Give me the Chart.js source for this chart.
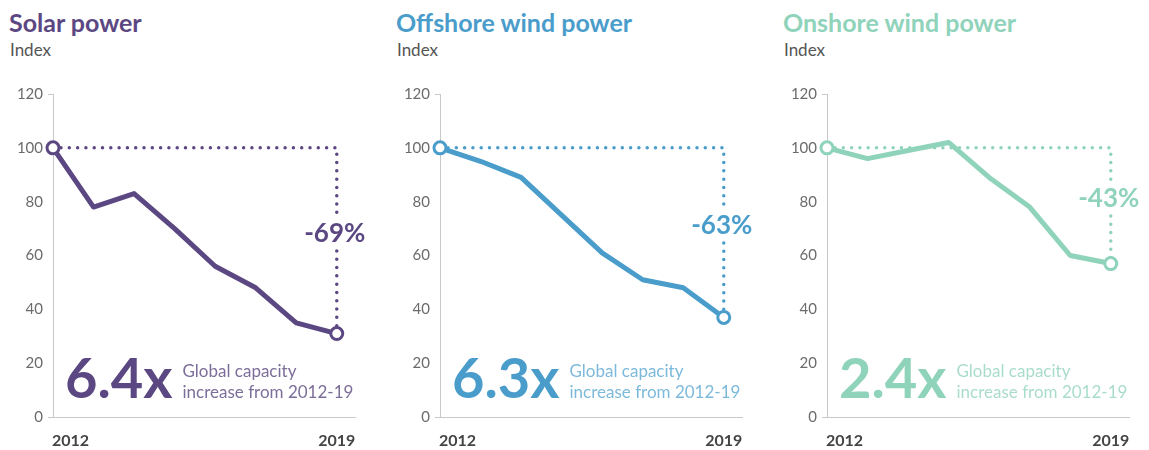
<!DOCTYPE html>
<html>
<head>
<meta charset="utf-8">
<script src="https://cdn.jsdelivr.net/npm/chart.js@4"></script>
<style>
  body { margin: 0; background: #fff; font-family: Lato, sans-serif; }
  #wrap { position: relative; width: 1149px; height: 450px; overflow: hidden; }
  .panel { position: absolute; top: 0; width: 383px; height: 450px; }
  .title { position: absolute; left: 9px; top: 6px; font-size: 25px; font-weight: 700; line-height: 32px; white-space: nowrap; }
  .sub { position: absolute; left: 10px; top: 40px; font-size: 17px; color: #555; line-height: 20px; }
  .panel canvas { position: absolute; left: 0; top: 80px; }
</style>
</head>
<body>
<div id="wrap">
  <div class="panel" style="left:0px"><div class="title" id="t0"></div><div class="sub">Index</div><canvas id="c0" width="383" height="370"></canvas></div>
  <div class="panel" style="left:387px"><div class="title" id="t1"></div><div class="sub">Index</div><canvas id="c1" width="383" height="370"></canvas></div>
  <div class="panel" style="left:774px"><div class="title" id="t2"></div><div class="sub">Index</div><canvas id="c2" width="383" height="370"></canvas></div>
</div>
<script>
// index values, 2012 = 100
const years = [2012, 2013, 2014, 2015, 2016, 2017, 2018, 2019];
const solarIndex = [100, 78, 83, 70, 56, 48, 35, 31];
const offshoreIndex = [100, 95, 89, 75, 61, 51, 48, 37];
const onshoreIndex = [100, 96, 99, 102, 89, 78, 60, 57];

const titles = ['Solar power', 'Offshore wind power', 'Onshore wind power'];
const changeLabels = ['-69%', '-63%', '-43%'];
const capacityLabels = ['6.4x', '6.3x', '2.4x'];
const capacityNote = ['Global capacity', 'increase from 2012-19'];
const yTicks = [0, 20, 40, 60, 80, 100, 120];
const xLabels = ['2012', '2019'];

const panels = [
    { values: solarIndex, color: '#5b4882', soft: '#7c6e99' },
    { values: offshoreIndex, color: '#4a9dcb', soft: '#7cb9db' },
    { values: onshoreIndex, color: '#8fd3bb', soft: '#a9ddca' }
];

const FONT = 'Lato, sans-serif';

// dotted guide lines, change label and capacity note
const annotate = {
    id: 'annotate',
    beforeDatasetsDraw(chart) {
        const p = chart.options.plugins.annotate;
        const xs = chart.scales.x, ys = chart.scales.y;
        const vals = p.values;
        const x0 = xs.getPixelForValue(years[0]);
        const x1 = xs.getPixelForValue(years[years.length - 1]);
        const yTop = ys.getPixelForValue(vals[0]);
        const yEnd = ys.getPixelForValue(vals[vals.length - 1]);
        const yLab = ys.getPixelForValue((vals[0] + vals[vals.length - 1]) / 2 + 2.5);
        const ctx = chart.ctx;
        ctx.save();
        ctx.strokeStyle = p.color;
        ctx.lineWidth = 3.5;
        ctx.lineCap = 'round';
        ctx.setLineDash([0, 8.3]);
        ctx.beginPath();
        ctx.moveTo(x0 + 8, yTop);
        ctx.lineTo(x1, yTop);
        ctx.lineTo(x1, yLab - 18);
        ctx.moveTo(x1, yLab + 17);
        ctx.lineTo(x1, yEnd);
        ctx.stroke();
        ctx.restore();

        ctx.save();
        ctx.fillStyle = p.color;
        ctx.font = '700 26px ' + FONT;
        ctx.textAlign = 'center';
        ctx.textBaseline = 'middle';
        ctx.fillText(p.change, x1 - 2, yLab);
        ctx.restore();
    },
    afterDraw(chart) {
        const p = chart.options.plugins.annotate;
        const xs = chart.scales.x;
        const area = chart.chartArea;
        const ctx = chart.ctx;
        ctx.save();
        ctx.fillStyle = p.color;
        ctx.font = '700 56px ' + FONT;
        ctx.textBaseline = 'alphabetic';
        const bx = area.left + 12;
        const by = area.bottom - 19;
        ctx.fillText(p.big, bx, by);
        const w = ctx.measureText(p.big).width;
        ctx.fillStyle = p.soft;
        ctx.font = '400 17px ' + FONT;
        ctx.fillText(capacityNote[0], bx + w + 10, by - 21);
        ctx.fillText(capacityNote[1], bx + w + 10, by);

        // first and last year under the axis
        ctx.fillStyle = '#444';
        ctx.font = '700 16px ' + FONT;
        ctx.textBaseline = 'middle';
        ctx.textAlign = 'left';
        ctx.fillText(xLabels[0], xs.getPixelForValue(years[0]) - 1, area.bottom + 24);
        ctx.textAlign = 'center';
        ctx.fillText(xLabels[1], xs.getPixelForValue(years[years.length - 1]), area.bottom + 24);
        ctx.restore();
    }
};

function drawPanel(i) {
    const cfg = panels[i];
    document.getElementById('t' + i).textContent = titles[i];
    document.getElementById('t' + i).style.color = cfg.color;
    const last = cfg.values.length - 1;

    new Chart(document.getElementById('c' + i), {
        type: 'line',
        data: {
            datasets: [{
                data: cfg.values.map((v, k) => ({ x: years[k], y: v })),
                borderColor: cfg.color,
                borderWidth: 5,
                borderJoinStyle: 'round',
                borderCapStyle: 'round',
                tension: 0,
                clip: false,
                pointRadius: ctx => (ctx.dataIndex === 0 || ctx.dataIndex === last) ? 6 : 0,
                pointBackgroundColor: '#fff',
                pointBorderColor: cfg.color,
                pointBorderWidth: 3
            }]
        },
        options: {
            responsive: false,
            animation: false,
            layout: { padding: { top: 14, right: 28, left: 0, bottom: 0 } },
            scales: {
                x: {
                    type: 'linear',
                    min: 2012,
                    max: 2019.45,
                    grid: { display: false },
                    border: { color: '#c9c9c9', width: 1 },
                    ticks: { display: false },
                    afterFit: s => { s.height = 33; }
                },
                y: {
                    min: 0,
                    max: 120,
                    afterBuildTicks: s => { s.ticks = yTicks.map(v => ({ value: v })); },
                    grid: {
                        drawOnChartArea: false,
                        tickLength: 5,
                        color: c => (c.tick && (c.tick.value === 0 || c.tick.value === 120)) ? '#c9c9c9' : 'rgba(0,0,0,0)'
                    },
                    border: { color: '#c9c9c9', width: 1 },
                    ticks: {
                        padding: 5,
                        color: '#6b6b6b',
                        font: { family: FONT, size: 15 }
                    },
                    afterFit: s => { s.width = 53; }
                }
            },
            plugins: {
                legend: { display: false },
                tooltip: { enabled: false },
                annotate: {
                    values: cfg.values,
                    color: cfg.color,
                    soft: cfg.soft,
                    change: changeLabels[i],
                    big: capacityLabels[i]
                }
            }
        },
        plugins: [annotate]
    });
}

drawPanel(0);
drawPanel(1);
drawPanel(2);
</script>
</body>
</html>
